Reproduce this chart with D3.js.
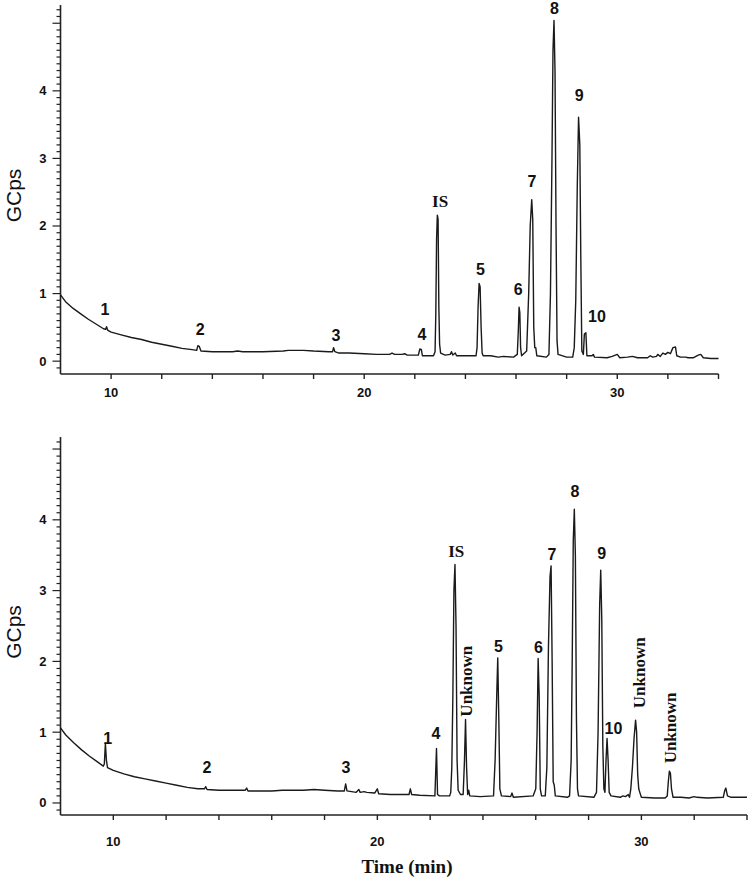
<!DOCTYPE html>
<html lang="en">
<head>
<meta charset="UTF-8">
<title>GC chromatograms</title>
<script src="https://d3js.org/d3.v7.min.js"></script>
<style>
  body { margin: 0; background: #fff; }
  svg { display: block; }
  .tick-label { font-family: "Liberation Sans", Arial, sans-serif; font-weight: bold; font-size: 13px; fill: #111; }
  .axis-title { font-family: "Liberation Sans", Arial, sans-serif; font-size: 21px; fill: #111; }
  .peak-num { font-family: "Liberation Sans", Arial, sans-serif; font-weight: bold; font-size: 16px; fill: #111; }
  .peak-word { font-family: "Liberation Serif", "Times New Roman", serif; font-weight: bold; font-size: 17px; fill: #111; }
  .x-title { font-family: "Liberation Serif", "Times New Roman", serif; font-weight: bold; font-size: 19px; fill: #111; }
</style>
</head>
<body>
<svg id="chart" width="750" height="881"></svg>
<script>
// retention time (min), signal (GCps)
const traceTop = [
  [8.0,0.98],[8.2,0.88],[8.5,0.78],[8.8,0.70],[9.1,0.62],[9.4,0.55],[9.7,0.48],[9.78,0.47],[9.82,0.51],[9.86,0.46],
  [10.0,0.43],[10.4,0.39],[10.8,0.35],[11.2,0.32],[11.6,0.28],[12.0,0.25],[12.4,0.22],[12.8,0.19],[13.2,0.17],
  [13.38,0.16],[13.43,0.23],[13.48,0.22],[13.55,0.15],[14.0,0.14],[14.8,0.14],[15.0,0.15],[15.2,0.14],[16.0,0.14],
  [16.8,0.15],[17.0,0.16],[17.6,0.16],[18.0,0.15],[18.6,0.14],[18.75,0.14],[18.79,0.2],[18.84,0.14],[19.0,0.12],
  [19.4,0.12],[20.0,0.11],[20.5,0.10],[21.0,0.10],[21.1,0.12],[21.2,0.10],[21.5,0.10],[21.6,0.11],[21.7,0.09],
  [22.14,0.09],[22.2,0.18],[22.26,0.17],[22.3,0.08],[22.74,0.08],[22.8,0.14],[22.83,0.7],[22.86,1.8],[22.89,2.16],
  [22.92,2.1],[22.95,0.8],[22.98,0.25],[23.02,0.12],[23.2,0.09],[23.4,0.1],[23.45,0.14],[23.5,0.09],[23.6,0.12],
  [23.65,0.08],[24.0,0.08],[24.42,0.08],[24.46,0.2],[24.5,0.8],[24.54,1.15],[24.58,1.1],[24.62,0.5],[24.66,0.12],
  [24.7,0.08],[25.0,0.08],[25.3,0.06],[25.5,0.07],[25.9,0.06],[26.05,0.1],[26.09,0.45],[26.12,0.8],[26.15,0.72],
  [26.18,0.2],[26.22,0.08],[26.42,0.15],[26.5,1.0],[26.56,2.0],[26.62,2.39],[26.66,2.1],[26.7,0.5],[26.74,0.2],
  [26.78,0.2],[26.82,0.08],[27.2,0.06],[27.3,0.1],[27.36,1.0],[27.42,3.0],[27.46,4.6],[27.5,5.04],[27.54,4.3],
  [27.58,2.0],[27.62,0.3],[27.66,0.1],[28.0,0.06],[28.24,0.06],[28.3,0.2],[28.36,0.9],[28.42,2.6],[28.47,3.61],
  [28.52,3.2],[28.56,1.5],[28.6,0.15],[28.66,0.1],[28.7,0.4],[28.76,0.42],[28.8,0.08],[29.0,0.08],[29.05,0.1],
  [29.1,0.06],[29.6,0.05],[29.8,0.07],[30.0,0.1],[30.1,0.05],[30.4,0.06],[30.6,0.07],[30.8,0.05],[31.2,0.05],
  [31.3,0.08],[31.4,0.06],[31.55,0.07],[31.6,0.1],[31.7,0.07],[31.8,0.12],[31.9,0.1],[32.0,0.13],[32.1,0.11],
  [32.2,0.2],[32.3,0.21],[32.35,0.08],[32.5,0.06],[32.7,0.06],[32.8,0.05],[33.0,0.05],[33.2,0.09],[33.3,0.1],
  [33.4,0.05],[33.7,0.04],[34.0,0.04]
];

// retention time (min), signal (GCps)
const traceBottom = [
  [8.0,1.06],[8.2,0.96],[8.5,0.85],[8.8,0.75],[9.1,0.66],[9.4,0.58],[9.62,0.52],[9.66,0.55],[9.7,0.84],[9.74,0.6],
  [9.78,0.5],[10.0,0.46],[10.4,0.41],[10.8,0.37],[11.2,0.34],[11.6,0.31],[12.0,0.28],[12.4,0.25],[12.8,0.22],
  [13.2,0.2],[13.45,0.2],[13.5,0.23],[13.55,0.19],[14.0,0.18],[14.5,0.18],[15.0,0.18],[15.05,0.21],[15.1,0.17],
  [15.5,0.17],[16.0,0.17],[16.4,0.18],[16.8,0.18],[17.2,0.18],[17.6,0.19],[18.0,0.18],[18.5,0.17],[18.75,0.17],
  [18.8,0.27],[18.85,0.17],[19.2,0.15],[19.3,0.19],[19.35,0.15],[19.5,0.16],[19.6,0.15],[19.9,0.14],[20.0,0.2],
  [20.05,0.13],[20.5,0.12],[20.8,0.12],[21.2,0.12],[21.25,0.2],[21.3,0.12],[21.6,0.11],[22.18,0.1],[22.24,0.77],
  [22.28,0.12],[22.35,0.1],[22.74,0.1],[22.78,0.15],[22.82,0.5],[22.86,1.5],[22.9,3.0],[22.94,3.37],[22.98,2.5],
  [23.02,0.6],[23.06,0.18],[23.15,0.12],[23.25,0.12],[23.3,0.6],[23.34,1.18],[23.38,0.5],[23.42,0.12],[23.46,0.18],
  [23.5,0.1],[23.9,0.09],[24.4,0.1],[24.46,0.6],[24.52,1.5],[24.56,2.05],[24.6,1.2],[24.64,0.2],[24.7,0.1],
  [25.05,0.09],[25.1,0.14],[25.15,0.08],[25.9,0.1],[26.0,0.2],[26.05,1.0],[26.09,2.04],[26.13,1.5],[26.17,0.2],
  [26.22,0.1],[26.36,0.1],[26.42,0.5],[26.48,2.2],[26.54,3.2],[26.58,3.35],[26.62,2.0],[26.66,0.3],[26.7,0.25],
  [26.74,0.1],[27.2,0.08],[27.28,0.1],[27.34,0.6],[27.38,2.0],[27.42,3.7],[27.46,4.15],[27.5,3.5],[27.54,1.2],
  [27.58,0.2],[27.62,0.1],[28.2,0.08],[28.3,0.15],[28.36,1.0],[28.42,2.8],[28.46,3.29],[28.5,2.6],[28.54,0.8],
  [28.58,0.2],[28.62,0.15],[28.66,0.6],[28.7,0.91],[28.74,0.6],[28.78,0.15],[28.85,0.1],[29.2,0.08],[29.3,0.1],
  [29.4,0.09],[29.5,0.12],[29.55,0.08],[29.6,0.2],[29.66,0.5],[29.72,0.9],[29.78,1.17],[29.82,1.0],[29.86,0.4],
  [29.9,0.2],[29.94,0.15],[30.0,0.08],[30.5,0.07],[30.9,0.07],[30.98,0.1],[31.02,0.3],[31.06,0.45],[31.1,0.42],
  [31.14,0.2],[31.2,0.08],[31.5,0.08],[31.8,0.07],[32.0,0.09],[32.1,0.08],[32.5,0.07],[33.1,0.08],[33.16,0.18],
  [33.2,0.21],[33.26,0.1],[33.4,0.08],[34.0,0.08]
];

// peak labels: text, time, signal at label baseline
const labelsTop = [
  ["1", 9.76, 0.68], ["2", 13.52, 0.38], ["3", 18.88, 0.30], ["4", 22.28, 0.31],
  ["IS", 23.0, 2.28], ["5", 24.59, 1.27], ["6", 26.09, 0.98], ["7", 26.63, 2.58],
  ["8", 27.52, 5.14], ["9", 28.5, 3.85], ["10", 29.2, 0.58]
];
const labelsBottom = [
  ["1", 9.79, 0.83], ["2", 13.55, 0.42], ["3", 18.81, 0.42], ["4", 22.22, 0.91],
  ["IS", 22.99, 3.47], ["5", 24.59, 2.13], ["6", 26.1, 2.12], ["7", 26.61, 3.43],
  ["8", 27.48, 4.32], ["9", 28.5, 3.44], ["10", 28.94, 0.98]
];
const unknownLabels = [[23.59, 1.72], [30.14, 1.84], [31.32, 1.06]];

const xTicks = [10, 12, 14, 16, 18, 20, 22, 24, 26, 28, 30, 32, 34];
const xTickLabels = [10, 20, 30];
const yTickLabels = [0, 1, 2, 3, 4];
const xTitle = "Time (min)";
const yTitle = "GCps";

const svg = d3.select("#chart");

const panels = [
  { trace: traceTop, labels: labelsTop, unknown: [],
    x: d3.scaleLinear().domain([8, 34]).range([60.5, 718.5]),
    y: d3.scaleLinear().domain([-0.19, 5.27]).range([374, 5]),
    tickLabelDy: 23 },
  { trace: traceBottom, labels: labelsBottom, unknown: unknownLabels,
    x: d3.scaleLinear().domain([8, 34]).range([60.5, 747]),
    y: d3.scaleLinear().domain([-0.17, 5.17]).range([815, 437]),
    tickLabelDy: 31 }
];

panels.forEach(p => {
  const g = svg.append("g");
  const [x0, x1] = p.x.range();
  const [yb, yt] = p.y.range();

  // minor y ticks every 0.1
  const minor = d3.range(-1, Math.floor(p.y.domain()[1] * 10) + 1).map(i => i / 10);
  g.selectAll(".ytick").data(minor).join("line")
    .attr("x1", d => Math.abs(d - Math.round(d)) < 1e-6 ? x0 - 8 : x0 - 4)
    .attr("x2", x0)
    .attr("y1", d => p.y(d)).attr("y2", d => p.y(d))
    .attr("stroke", "#222").attr("stroke-width", 1.2);

  g.selectAll(".ylab").data(yTickLabels).join("text")
    .attr("class", "tick-label")
    .attr("x", x0 - 14).attr("y", d => p.y(d) + 4.5)
    .attr("text-anchor", "end")
    .text(d => d);

  // x ticks
  g.selectAll(".xtick").data(xTicks).join("line")
    .attr("x1", d => p.x(d)).attr("x2", d => p.x(d))
    .attr("y1", yb).attr("y2", yb + 5)
    .attr("stroke", "#222").attr("stroke-width", 1.4);

  g.selectAll(".xlab").data(xTickLabels).join("text")
    .attr("class", "tick-label")
    .attr("x", d => p.x(d)).attr("y", yb + p.tickLabelDy)
    .attr("text-anchor", "middle")
    .text(d => d);

  // axis lines
  g.append("line").attr("x1", x0).attr("x2", x0).attr("y1", yt).attr("y2", yb)
    .attr("stroke", "#222").attr("stroke-width", 1.6);
  g.append("line").attr("x1", x0).attr("x2", x1).attr("y1", yb).attr("y2", yb)
    .attr("stroke", "#222").attr("stroke-width", 1.6);

  // y title
  const ymid = (yt + yb) / 2 + 6;
  g.append("text").attr("class", "axis-title")
    .attr("transform", `translate(21,${ymid}) rotate(-90)`)
    .attr("text-anchor", "middle")
    .text(yTitle);

  // chromatogram
  const line = d3.line().x(d => p.x(d[0])).y(d => p.y(d[1]));
  g.append("path").datum(p.trace)
    .attr("d", line)
    .attr("fill", "none")
    .attr("stroke", "#1a1a1a")
    .attr("stroke-width", 1.4)
    .attr("stroke-linejoin", "round");

  // peak labels
  g.selectAll(".plab").data(p.labels).join("text")
    .attr("class", d => isNaN(+d[0]) ? "peak-word" : "peak-num")
    .attr("x", d => p.x(d[1])).attr("y", d => p.y(d[2]))
    .attr("text-anchor", "middle")
    .text(d => d[0]);

  g.selectAll(".ulab").data(p.unknown).join("text")
    .attr("class", "peak-word")
    .attr("transform", d => `translate(${p.x(d[0])},${p.y(d[1])}) rotate(-90)`)
    .attr("text-anchor", "middle")
    .text("Unknown");
});

svg.append("text").attr("class", "x-title")
  .attr("x", 407).attr("y", 873)
  .attr("text-anchor", "middle")
  .text(xTitle);
</script>
</body>
</html>
